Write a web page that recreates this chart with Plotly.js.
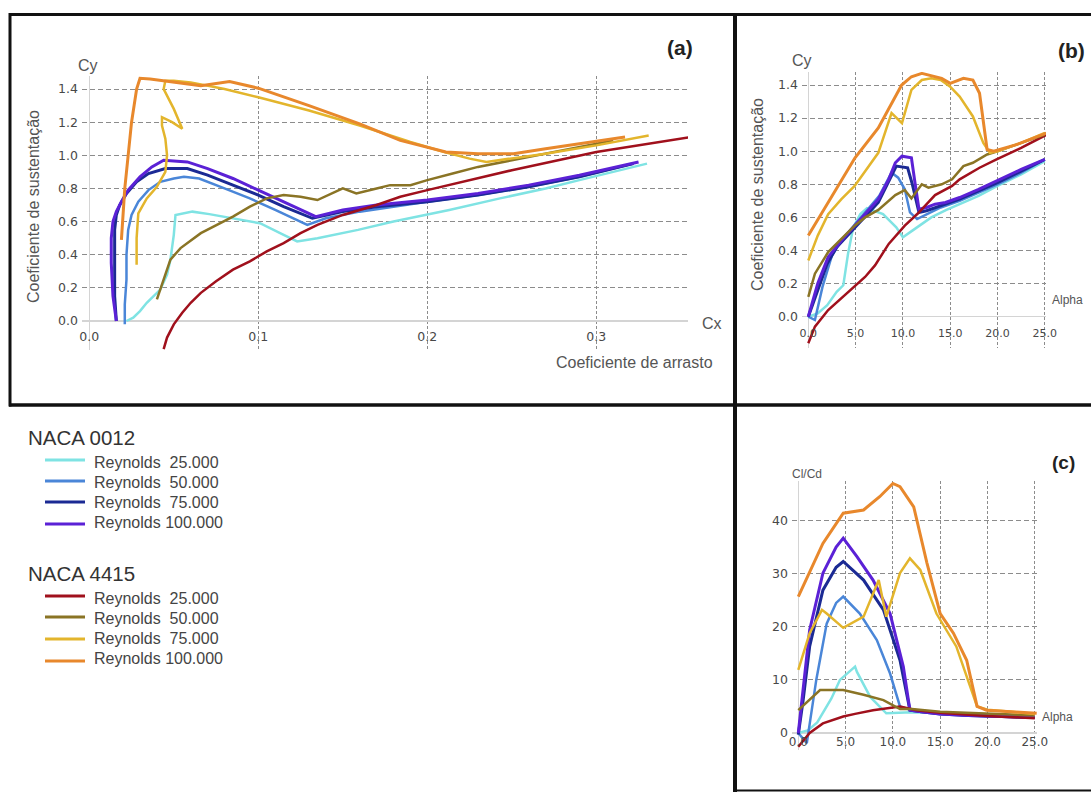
<!DOCTYPE html>
<html><head><meta charset="utf-8">
<script src="https://cdn.plot.ly/plotly-3.0.1.min.js"></script>
<style>html,body{margin:0;padding:0;background:#fff}#chart{width:1091px;height:792px}</style>
</head><body><div id="chart"></div>
<script>
// ---------- Panel (a): Cy (lift) vs Cx (drag) ----------
const a_0012_25_cd = [0.022,0.026,0.030,0.034,0.042,0.046,0.048,0.050,0.051,0.056,0.061,0.071,0.085,0.095,0.101,0.115,0.123,0.135,0.159,0.180,0.200,0.213,0.243,0.270,0.290,0.310,0.330];
const a_0012_25_cl = [0.00,0.02,0.06,0.11,0.19,0.28,0.37,0.52,0.64,0.65,0.66,0.645,0.62,0.60,0.59,0.52,0.48,0.50,0.55,0.60,0.64,0.67,0.74,0.80,0.85,0.90,0.95];
const a_0012_50_cd = [0.021,0.021,0.022,0.022,0.023,0.025,0.029,0.035,0.042,0.050,0.056,0.065,0.080,0.095,0.110,0.129,0.140,0.160,0.180,0.200,0.230,0.260,0.290,0.322];
const a_0012_50_cl = [-0.02,0.10,0.25,0.40,0.55,0.64,0.72,0.79,0.84,0.86,0.87,0.86,0.80,0.74,0.67,0.58,0.62,0.66,0.69,0.72,0.76,0.81,0.87,0.95];
const a_0012_75_cd = [0.016,0.015,0.015,0.015,0.016,0.018,0.022,0.028,0.035,0.045,0.058,0.070,0.085,0.100,0.115,0.132,0.150,0.170,0.200,0.230,0.260,0.290,0.322];
const a_0012_75_cl = [0.00,0.15,0.35,0.55,0.64,0.70,0.77,0.84,0.89,0.92,0.92,0.88,0.82,0.76,0.69,0.62,0.66,0.69,0.72,0.76,0.81,0.87,0.95];
const a_0012_100_cd = [0.016,0.014,0.013,0.013,0.014,0.016,0.019,0.023,0.030,0.037,0.044,0.058,0.070,0.085,0.100,0.117,0.134,0.150,0.170,0.200,0.230,0.260,0.290,0.325];
const a_0012_100_cl = [0.00,0.15,0.35,0.50,0.60,0.66,0.72,0.79,0.87,0.93,0.97,0.96,0.92,0.86,0.79,0.71,0.63,0.67,0.70,0.73,0.77,0.82,0.88,0.96];
const a_4415_25_cd = [0.044,0.046,0.050,0.055,0.060,0.066,0.075,0.085,0.095,0.105,0.115,0.125,0.135,0.150,0.170,0.184,0.200,0.250,0.300,0.356];
const a_4415_25_cl = [-0.17,-0.10,-0.02,0.05,0.11,0.17,0.24,0.31,0.36,0.42,0.47,0.53,0.58,0.64,0.70,0.75,0.79,0.91,1.02,1.11];
const a_4415_50_cd = [0.040,0.044,0.048,0.054,0.066,0.085,0.095,0.105,0.115,0.125,0.135,0.150,0.158,0.170,0.178,0.190,0.200,0.215,0.230,0.250,0.280,0.310];
const a_4415_50_cl = [0.13,0.25,0.37,0.44,0.53,0.63,0.69,0.74,0.76,0.75,0.73,0.80,0.77,0.80,0.82,0.82,0.85,0.89,0.93,0.97,1.03,1.09];
const a_4415_75_cd = [0.028,0.028,0.029,0.034,0.040,0.045,0.046,0.045,0.043,0.043,0.049,0.055,0.050,0.044,0.045,0.050,0.060,0.070,0.080,0.100,0.130,0.160,0.190,0.210,0.225,0.235,0.250,0.270,0.300,0.331];
const a_4415_75_cl = [0.34,0.50,0.65,0.74,0.81,0.90,1.00,1.10,1.18,1.23,1.20,1.16,1.28,1.40,1.45,1.45,1.44,1.42,1.40,1.35,1.27,1.18,1.08,1.02,0.98,0.96,0.98,1.01,1.06,1.12];
const a_4415_100_cd = [0.019,0.020,0.021,0.023,0.025,0.028,0.030,0.036,0.050,0.066,0.083,0.100,0.130,0.160,0.184,0.200,0.211,0.230,0.251,0.270,0.290,0.317];
const a_4415_100_cl = [0.49,0.65,0.80,1.00,1.20,1.40,1.465,1.46,1.44,1.42,1.445,1.405,1.30,1.19,1.09,1.05,1.02,1.01,1.01,1.04,1.07,1.11];

// ---------- Panel (b): Cy vs Alpha ----------
const b_0012_25_alpha = [0,1,2,3,3.7,4.2,4.75,5.5,6.2,7.0,7.9,9.3,10.0,11.0,12.0,13.0,14.6,16,18,20,22.5,25];
const b_0012_25_cl = [0.00,0.02,0.07,0.15,0.19,0.38,0.54,0.62,0.655,0.64,0.62,0.54,0.48,0.52,0.56,0.60,0.645,0.68,0.73,0.79,0.86,0.94];
const b_0012_50_alpha = [0,0.7,1.5,2.5,3.5,5,6.5,7.5,8.8,9.5,10.2,10.75,11.5,12.5,14,16,18,20,22.5,25];
const b_0012_50_cl = [0.00,-0.02,0.18,0.37,0.46,0.56,0.66,0.73,0.87,0.84,0.77,0.63,0.59,0.62,0.66,0.70,0.75,0.80,0.87,0.95];
const b_0012_75_alpha = [0,1,2,3,5,7.4,9.3,10.5,11.0,11.7,12.5,14,16,18,20,22.5,25];
const b_0012_75_cl = [0.00,0.16,0.32,0.42,0.54,0.69,0.91,0.90,0.80,0.63,0.64,0.67,0.71,0.76,0.81,0.88,0.95];
const b_0012_100_alpha = [0,0.5,1,2.1,3.5,4.9,6,7.4,8.5,9.2,9.9,10.9,11.3,11.7,12.5,13.4,14.5,16,18,20.3,22.5,25];
const b_0012_100_cl = [0.00,0.10,0.20,0.36,0.46,0.55,0.62,0.71,0.83,0.93,0.97,0.96,0.80,0.65,0.66,0.68,0.69,0.72,0.77,0.83,0.89,0.95];
const b_4415_25_alpha = [0,0.7,2.1,3.5,4.9,6,7.05,8.5,10.2,11.6,13.4,15.2,16,18.1,19.9,22.5,25.2];
const b_4415_25_cl = [-0.16,-0.06,0.04,0.11,0.18,0.24,0.31,0.44,0.55,0.625,0.735,0.79,0.83,0.90,0.95,1.02,1.10];
const b_4415_50_alpha = [0,0.7,2.1,3.5,4.9,6,7.4,9.2,10.2,10.9,12,12.7,14.1,15.2,16.4,17.4,18.9,20,22.5,25];
const b_4415_50_cl = [0.12,0.26,0.39,0.47,0.55,0.60,0.645,0.735,0.765,0.715,0.80,0.78,0.80,0.83,0.91,0.93,0.98,1.00,1.05,1.10];
const b_4415_75_alpha = [0,1,2.1,3.5,4.9,6,7.4,8.8,9.9,10.9,12,13,14,15,16,17.4,18.5,19.2,20,22.5,25];
const b_4415_75_cl = [0.34,0.49,0.62,0.71,0.79,0.88,0.99,1.23,1.17,1.37,1.43,1.44,1.43,1.39,1.33,1.21,1.05,0.99,1.00,1.05,1.11];
const b_4415_100_alpha = [0,2.5,4.94,7.4,9.87,10.9,12,14.1,15,16.4,17.4,18.1,18.9,19.6,22,25.2];
const b_4415_100_cl = [0.49,0.73,0.96,1.14,1.40,1.45,1.47,1.44,1.41,1.44,1.43,1.35,1.01,1.00,1.04,1.11];

// ---------- Panel (c): Cl/Cd vs Alpha ----------
const c_0012_25_alpha = [0,1,2,2.6,3.5,4.4,5.6,6.0,6.2,7.6,9.3,10.5,12,15,20,25];
const c_0012_25_clcd = [0,0.5,2.0,3.7,6.5,10,12.0,12.5,11.5,6.8,3.7,3.8,3.9,3.7,3.3,3.0];
const c_0012_50_alpha = [0,0.9,1.9,3.0,4.0,4.75,6.5,8.3,9.7,10.75,12,15,18,20,25];
const c_0012_50_clcd = [0,-1.9,10,20.6,24.5,25.7,22.5,17.5,11.2,5.0,4.3,3.7,3.3,3.2,2.9];
const c_0012_75_alpha = [0,0.5,1.2,2.6,4.0,4.75,6.9,9.0,10.75,11.8,13,15,18,20,25];
const c_0012_75_clcd = [-0.3,6,16.3,26.9,31.2,32.3,28.8,23.2,13.7,4.3,4.0,3.6,3.3,3.2,2.9];
const c_0012_100_alpha = [0,0.5,1.2,2.6,4.0,4.75,6.2,7.9,9.7,11.1,11.8,13,15,18,20,25];
const c_0012_100_clcd = [0,8,19.4,30.1,35.0,36.7,33.2,28.8,22.5,12.5,4.3,4.0,3.6,3.3,3.2,2.9];
const c_4415_25_alpha = [0,1.2,2.6,4.75,6,7.9,10.75,12.5,15,20,25];
const c_4415_25_clcd = [-2.6,0,1.8,3.1,3.6,4.3,5.0,4.3,3.8,3.2,2.8];
const c_4415_50_alpha = [0,1.2,2.3,3.5,4.75,6.9,9,10.75,12,15,20,25];
const c_4415_50_clcd = [4.3,6.2,8.1,8.1,8.1,7.2,6.2,4.5,4.5,4.0,3.6,3.3];
const c_4415_75_alpha = [0,1.2,2.5,3.0,4.75,6.9,8.5,9.3,10.75,11.8,12.9,14.6,16.7,18.9,20,22.5,25];
const c_4415_75_clcd = [11.9,18.8,23.2,22.5,19.8,21.9,28.8,21.9,30.1,32.9,30.7,22.5,16.3,5.0,4.4,4.0,3.6];
const c_4415_100_alpha = [0,2.6,4.75,6.9,8.6,10.0,10.75,12.2,13.6,15,16.4,17.8,18.9,19.9,22.5,25.2];
const c_4415_100_clcd = [25.7,35.7,41.4,42.0,44.5,47.0,46.4,42.6,32.0,22.5,18.8,13.7,5.0,4.3,4.0,3.7];

// ---------- Legend labels ----------
const groupTitles = ['NACA 0012', 'NACA 4415'];
const reynoldsLabels = ['Reynolds\u00A0\u00A025.000', 'Reynolds\u00A0\u00A050.000', 'Reynolds\u00A0\u00A075.000', 'Reynolds 100.000'];

// ---------- Styles ----------
const series = [
  {g:0, r:0, color:'#7fe3e3', width:2.5, a:[a_0012_25_cd,a_0012_25_cl], b:[b_0012_25_alpha,b_0012_25_cl], c:[c_0012_25_alpha,c_0012_25_clcd]},
  {g:0, r:1, color:'#4a86d8', width:2.5, a:[a_0012_50_cd,a_0012_50_cl], b:[b_0012_50_alpha,b_0012_50_cl], c:[c_0012_50_alpha,c_0012_50_clcd]},
  {g:0, r:2, color:'#1b2a94', width:3,   a:[a_0012_75_cd,a_0012_75_cl], b:[b_0012_75_alpha,b_0012_75_cl], c:[c_0012_75_alpha,c_0012_75_clcd]},
  {g:0, r:3, color:'#5b21d6', width:3,   a:[a_0012_100_cd,a_0012_100_cl], b:[b_0012_100_alpha,b_0012_100_cl], c:[c_0012_100_alpha,c_0012_100_clcd]},
  {g:1, r:0, color:'#a0101c', width:2.5, a:[a_4415_25_cd,a_4415_25_cl], b:[b_4415_25_alpha,b_4415_25_cl], c:[c_4415_25_alpha,c_4415_25_clcd]},
  {g:1, r:1, color:'#8a7425', width:2.5, a:[a_4415_50_cd,a_4415_50_cl], b:[b_4415_50_alpha,b_4415_50_cl], c:[c_4415_50_alpha,c_4415_50_clcd]},
  {g:1, r:2, color:'#e3b52c', width:2.5, a:[a_4415_75_cd,a_4415_75_cl], b:[b_4415_75_alpha,b_4415_75_cl], c:[c_4415_75_alpha,c_4415_75_clcd]},
  {g:1, r:3, color:'#e8882c', width:3,   a:[a_4415_100_cd,a_4415_100_cl], b:[b_4415_100_alpha,b_4415_100_cl], c:[c_4415_100_alpha,c_4415_100_clcd]}
];

const W = 1091, H = 792;
const PX = x => x / W, PY = y => 1 - y / H;
// pixel calibration of each panel (value 0 position and px per unit)
const calA = {x0:89.3, xs:1690, y0:321, ys:165.7};
const calB = {x0:808.3, xs:9.46, y0:316.7, ys:165.5};
const calC = {x0:798.3, xs:9.46, y0:733, ys:5.31};
const rX = (c,l,r) => [(l-c.x0)/c.xs, (r-c.x0)/c.xs];
const rY = (c,t,b) => [(c.y0-b)/c.ys, (c.y0-t)/c.ys];

const traces = [];
const panels = [['a','x','y'],['b','x2','y2'],['c','x3','y3']];
panels.forEach(([p,xa,ya]) => {
  series.forEach(s => {
    traces.push({type:'scatter', mode:'lines', x:s[p][0], y:s[p][1], xaxis:xa, yaxis:ya,
      line:{color:s.color, width:s.width}, showlegend:false, hoverinfo:'skip'});
  });
});

const TF = 'DejaVu Sans, Verdana, sans-serif';
const LF = 'Liberation Sans, Arial, sans-serif';
const TC = '#484848';
const gridX = {showgrid:true, gridcolor:'#8c8c8c', gridwidth:1, griddash:'3px,2px', zeroline:true, zerolinecolor:'#d4d4d4', zerolinewidth:1.5, showline:false, ticks:''};
const gridY = {showgrid:true, gridcolor:'#8c8c8c', gridwidth:1, griddash:'5px,3px', zeroline:true, zerolinecolor:'#d4d4d4', zerolinewidth:1.5, showline:false, ticks:''};

const layout = {
  width:W, height:H, margin:{l:0,r:0,t:0,b:0}, paper_bgcolor:'#fff', plot_bgcolor:'#fff', showlegend:false,
  xaxis: Object.assign({}, gridX, {domain:[PX(82),PX(688)], range:rX(calA,82,688), anchor:'free', position:PY(321),
    tick0:0, dtick:0.1, tickformat:'.1f', tickfont:{family:TF,size:12.5,color:TC}, ticklabelstandoff:6}),
  yaxis: Object.assign({}, gridY, {domain:[PY(350),PY(76)], range:rY(calA,76,350), anchor:'x',
    tick0:0, dtick:0.2, tickformat:'.1f', tickfont:{family:TF,size:12.5,color:TC}, ticklabelstandoff:3}),
  xaxis2: Object.assign({}, gridX, {domain:[PX(802),PX(1046)], range:rX(calB,802,1046), anchor:'free', position:PY(316.7),
    tick0:0, dtick:5, tickformat:'.1f', tickfont:{family:TF,size:11,color:TC}, ticklabelstandoff:8}),
  yaxis2: Object.assign({}, gridY, {domain:[PY(348),PY(72)], range:rY(calB,72,348), anchor:'x2',
    tick0:0, dtick:0.2, tickformat:'.1f', tickfont:{family:TF,size:12.5,color:TC}, ticklabelstandoff:3}),
  xaxis3: Object.assign({}, gridX, {domain:[PX(792),PX(1037)], range:rX(calC,792,1037), anchor:'free', position:PY(733),
    tick0:0, dtick:5, tickformat:'.1f', tickfont:{family:TF,size:12,color:TC}, ticklabelstandoff:0}),
  yaxis3: Object.assign({}, gridY, {domain:[PY(750),PY(481)], range:rY(calC,481,750), anchor:'x3',
    tick0:0, dtick:10, tickformat:'d', tickfont:{family:TF,size:12.5,color:TC}, ticklabelstandoff:3}),
  shapes:[], annotations:[]
};

// Frame lines
const frame = [[9,14.5,1091,14.5,3],[10,13,10,406.5,3],[9,405,1091,405,3.5],[735,13,735,792,4],[735,790.5,1091,790.5,2]];
frame.forEach(([x0,y0,x1,y1,w]) => layout.shapes.push({type:'line', xref:'paper', yref:'paper',
  x0:PX(x0), y0:PY(y0), x1:PX(x1), y1:PY(y1), line:{color:'#111', width:w}}));

function ann(text, x, y, size, opts) {
  layout.annotations.push(Object.assign({text, xref:'paper', yref:'paper', x:PX(x), y:PY(y), showarrow:false,
    xanchor:'center', yanchor:'middle', font:{family:LF, size, color:'#555'}}, opts||{}));
}
// Panel labels
ann('Coeficiente de sustentação', 33, 207, 16, {textangle:-90});
ann('Cy', 88, 65, 16);
ann('Cx', 712, 323, 16);
ann('Coeficiente de arrasto', 634, 363, 16);
ann('<b>(a)</b>', 680, 47, 21, {font:{family:LF,size:21,color:'#222'}});
ann('Coeficiente de sustentação', 757, 195, 16, {textangle:-90});
ann('Cy', 802, 61, 16);
ann('<b>(b)</b>', 1071, 50, 21, {font:{family:LF,size:21,color:'#222'}});
ann('Alpha', 1067, 300, 12);
ann('Cl/Cd', 807, 474, 12);
ann('<b>(c)</b>', 1063, 462, 19, {font:{family:LF,size:19,color:'#222'}});
ann('Alpha', 1057, 717, 12);

// Legend
const groupTitleY = [438, 573];
const lineY = [[460,481,502,524],[596,617,639,661]];
const textY = [[462,482,502,522],[598,618,638,658]];
groupTitles.forEach((t,g) => ann(t, 26, groupTitleY[g], 20.5, {xanchor:'left', font:{family:LF,size:20.5,color:'#333'}}));
series.forEach(s => {
  layout.shapes.push({type:'line', xref:'paper', yref:'paper', x0:PX(45), x1:PX(85), y0:PY(lineY[s.g][s.r]), y1:PY(lineY[s.g][s.r]),
    line:{color:s.color, width:3}});
  ann(reynoldsLabels[s.r], 92, textY[s.g][s.r], 16, {xanchor:'left', font:{family:LF,size:16,color:'#444'}});
});

Plotly.newPlot('chart', traces, layout, {staticPlot:true, displayModeBar:false});
</script></body></html>
